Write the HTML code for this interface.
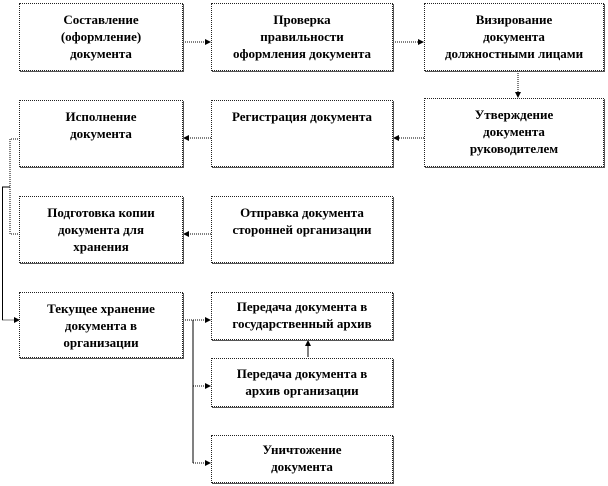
<!DOCTYPE html>
<html><head><meta charset="utf-8"><style>
body{margin:0;width:608px;height:486px;background:#fff;position:relative;overflow:hidden}
.b{position:absolute;box-sizing:border-box;border:1px dotted #222;background:#fff;font:bold 13px/17px "Liberation Serif",serif;text-align:center;padding-top:7px;color:#000;box-shadow:1px 1px 0 #555}
svg{position:absolute;left:0;top:0}
</style></head><body>
<svg width="608" height="486">
<defs><marker id="a" markerWidth="6" markerHeight="6" refX="5" refY="3" orient="auto"><path d="M0,0L6,3L0,6z" fill="#000"/></marker></defs>
<g stroke="#000" stroke-width="1" fill="none">
<path d="M183,42H210" stroke-dasharray="1,1" marker-end="url(#a)"/>
<path d="M393,42H423" stroke-dasharray="1,1" marker-end="url(#a)"/>
<path d="M518,71V97" stroke-dasharray="1,1" marker-end="url(#a)"/>
<path d="M424,138H394" stroke-dasharray="1,1" marker-end="url(#a)"/>
<path d="M211,138H184" stroke-dasharray="1,1" marker-end="url(#a)"/>
<path d="M211,234H184" stroke-dasharray="1,1" marker-end="url(#a)"/>
<path d="M20,139H10V234H20" stroke-dasharray="1,1"/>
<path d="M10,187H2.5V320"/>
<path d="M2.5,320H19" stroke-dasharray="1,1" marker-end="url(#a)"/>
<path d="M183,320H210" stroke-dasharray="1,1" marker-end="url(#a)"/>
<path d="M193,320V463"/>
<path d="M193,386H210" stroke-dasharray="1,1" marker-end="url(#a)"/>
<path d="M193,463H210" stroke-dasharray="1,1" marker-end="url(#a)"/>
<path d="M308,357V341" marker-end="url(#a)"/>
</g></svg>
<div class="b" style="left:19px;top:3px;width:164px;height:68px">Составление<br>(оформление)<br>документа</div>
<div class="b" style="left:211px;top:3px;width:182px;height:68px">Проверка<br>правильности<br>оформления документа</div>
<div class="b" style="left:424px;top:3px;width:180px;height:68px">Визирование<br>документа<br>должностными лицами</div>
<div class="b" style="left:19px;top:100px;width:164px;height:67px">Исполнение<br>документа</div>
<div class="b" style="left:211px;top:100px;width:182px;height:67px">Регистрация документа</div>
<div class="b" style="left:424px;top:98px;width:180px;height:69px">Утверждение<br>документа<br>руководителем</div>
<div class="b" style="left:19px;top:196px;width:164px;height:67px">Подготовка копии<br>документа для<br>хранения</div>
<div class="b" style="left:211px;top:196px;width:182px;height:67px">Отправка документа<br>сторонней организации</div>
<div class="b" style="left:19px;top:292px;width:164px;height:66px">Текущее  хранение<br>документа в<br>организации</div>
<div class="b" style="left:211px;top:292px;width:182px;height:48px;padding-top:5px">Передача документа в<br>государственный архив</div>
<div class="b" style="left:211px;top:358px;width:182px;height:49px;padding-top:6px">Передача документа в<br>архив организации</div>
<div class="b" style="left:211px;top:435px;width:182px;height:48px;padding-top:5px">Уничтожение<br>документа</div>
</body></html>
